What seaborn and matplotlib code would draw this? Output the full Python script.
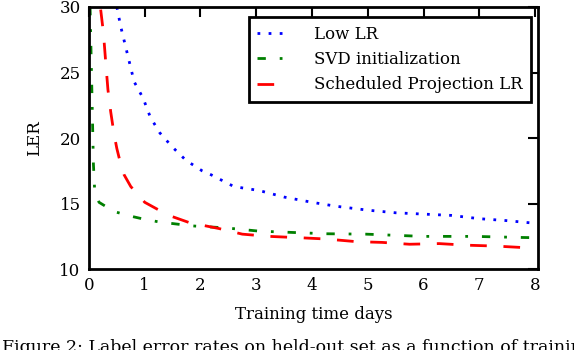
import numpy as np
import pandas as pd
import matplotlib
matplotlib.use("Agg")
import matplotlib.pyplot as plt
import seaborn as sns

# values
low_lr_x = [0.50, 0.57, 0.65, 0.73, 0.81, 0.97, 1.10, 1.27, 1.50, 1.74, 2.03, 2.19, 2.60, 3.05, 3.50, 4.00, 4.43, 5.00, 5.50, 6.00, 6.50, 7.00, 7.50, 8.00]
low_lr_y = [30.0, 28.5, 27.1, 25.7, 24.3, 23.05, 21.6, 20.4, 19.3, 18.3, 17.5, 17.2, 16.3, 16.0, 15.5, 15.1, 14.8, 14.5, 14.3, 14.2, 14.1, 13.85, 13.7, 13.5]

svd_x = [0.02, 0.04, 0.06, 0.08, 0.10, 0.18, 0.45, 0.72, 1.00, 1.26, 1.85, 2.45, 3.05, 3.65, 4.25, 4.97, 5.98, 6.90, 7.72, 8.00]
svd_y = [30.0, 26.0, 22.0, 18.0, 16.2, 15.1, 14.4, 14.07, 13.8, 13.6, 13.3, 13.15, 12.9, 12.8, 12.7, 12.67, 12.5, 12.5, 12.42, 12.4]

sched_x = [0.21, 0.26, 0.30, 0.34, 0.39, 0.45, 0.50, 0.57, 0.63, 0.75, 0.92, 1.00, 1.30, 1.50, 1.80, 2.33, 2.75, 3.23, 3.77, 4.25, 4.79, 5.26, 5.75, 6.28, 6.76, 7.30, 7.77, 8.00]
sched_y = [29.8, 28.0, 25.8, 23.7, 22.0, 20.3, 19.2, 18.0, 17.2, 16.3, 15.5, 15.1, 14.4, 14.0, 13.55, 13.1, 12.67, 12.5, 12.4, 12.3, 12.1, 12.04, 11.9, 11.95, 11.83, 11.76, 11.65, 11.7]

labels = ["Low LR", "SVD initialization", "Scheduled Projection LR"]
caption = "Figure 2: Label error rates on held-out set as a function of training"

sns.set_style("white")
plt.rcParams["font.family"] = ["DejaVu Serif"]
plt.rcParams["text.color"] = "black"
plt.rcParams["axes.labelcolor"] = "black"
plt.rcParams["xtick.color"] = "black"
plt.rcParams["ytick.color"] = "black"

fig = plt.figure(figsize=(5.74, 3.5), dpi=100)
ax = fig.add_axes([0.155, 0.231, 0.782, 0.749])

sns.lineplot(x=low_lr_x, y=low_lr_y, ax=ax, color="blue", lw=2,
             dashes=False, label=labels[0], sort=False)
sns.lineplot(x=svd_x, y=svd_y, ax=ax, color="green", lw=2,
             dashes=False, label=labels[1], sort=False)
sns.lineplot(x=sched_x, y=sched_y, ax=ax, color="red", lw=2,
             dashes=False, label=labels[2], sort=False)

styles = [(0, (1, 3)), (0, (3, 5, 1, 5)), (0, (6, 6))]
for line, ls in zip(ax.get_lines(), styles):
    line.set_linestyle(ls)

ax.set_xlim(0, 8.05)
ax.set_ylim(10, 30)
ax.set_xticks(range(0, 9))
ax.set_yticks([10, 15, 20, 25, 30])
ax.tick_params(direction="in", length=7, width=1.5, labelsize=12,
               top=True, right=True, pad=6)
for s in ax.spines.values():
    s.set_linewidth(2)
    s.set_color("black")

ax.set_xlabel("Training time days", fontsize=12, labelpad=8)
ax.set_ylabel("LER", fontsize=12, labelpad=12)

leg = ax.legend(loc="upper right", fontsize=12, handlelength=1.6,
                handletextpad=1.8, borderpad=0.5, fancybox=False,
                bbox_to_anchor=(0.985, 0.96), labelspacing=0.5,
                borderaxespad=0)
leg.get_frame().set_edgecolor("black")
leg.get_frame().set_linewidth(2)
leg.get_frame().set_alpha(1)
for h, ls in zip(leg.get_lines(), styles):
    h.set_linestyle(ls)

fig.text(0.003, -0.006, caption, fontsize=12.5, va="baseline", ha="left")

fig.savefig("out.png", dpi=100)
